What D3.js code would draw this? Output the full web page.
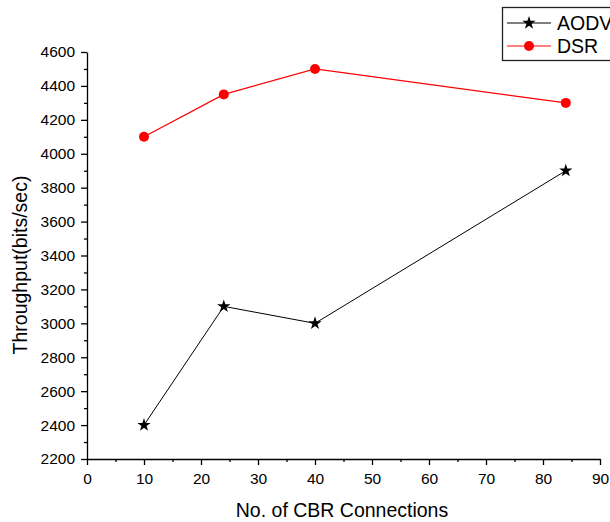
<!DOCTYPE html>
<meta charset='utf-8'>
<style>
  body { margin: 0; background: #fff; }
  svg { font-family: 'Liberation Sans', Arial, sans-serif; }
  .axis text { font-size: 15.5px; fill: #000; }
  .axis path, .axis line { stroke: #000; stroke-width: 1.3px; }
</style>
<body>
<div id='viz'></div>
<script src='https://d3js.org/d3.v7.min.js'></script>
<script>

// Data
var connections = [10, 24, 40, 84];
var aodv = [2400, 3100, 3000, 3900];
var dsr  = [4100, 4350, 4500, 4300];
var xTicks = [0, 10, 20, 30, 40, 50, 60, 70, 80, 90];
var yTicks = [2200, 2400, 2600, 2800, 3000, 3200, 3400, 3600, 3800, 4000, 4200, 4400, 4600];

var W = 610, H = 522;
var margin = {top: 52, right: 10, bottom: 63, left: 87};
var width = 600 - margin.left,
    height = 459 - margin.top;

var x = d3.scaleLinear().domain([0, 90]).range([0, width]);
var y = d3.scaleLinear().domain([2200, 4600]).range([height, 0]);

var svg = d3.select('#viz').append('svg')
    .attr('width', W)
    .attr('height', H);

var g = svg.append('g')
    .attr('transform', 'translate(' + margin.left + ',' + margin.top + ')');

// Minor ticks
g.append('g')
    .attr('class', 'axis')
    .attr('transform', 'translate(0,' + height + ')')
    .call(d3.axisBottom(x).tickValues(d3.range(5, 90, 10)).tickSize(3).tickFormat(''))
    .select('.domain').remove();
g.append('g')
    .attr('class', 'axis')
    .call(d3.axisLeft(y).tickValues(d3.range(2300, 4600, 200)).tickSize(3).tickFormat(''))
    .select('.domain').remove();

// Major axes
g.append('g')
    .attr('class', 'axis')
    .attr('transform', 'translate(0,' + height + ')')
    .call(d3.axisBottom(x).tickValues(xTicks).tickSize(6).tickSizeOuter(0).tickPadding(8).tickFormat(d3.format('d')));
g.append('g')
    .attr('class', 'axis')
    .call(d3.axisLeft(y).tickValues(yTicks).tickSize(6).tickSizeOuter(0).tickPadding(6).tickFormat(d3.format('d')));

// Axis titles
svg.append('text')
    .attr('x', 342)
    .attr('y', 517)
    .attr('text-anchor', 'middle')
    .style('font-size', '19.5px')
    .text('No. of CBR Connections');

svg.append('text')
    .attr('transform', 'translate(27,265) rotate(-90)')
    .attr('text-anchor', 'middle')
    .style('font-size', '19.5px')
    .text('Throughput(bits/sec)');

var line = d3.line()
    .x(function(d) { return x(d[0]); })
    .y(function(d) { return y(d[1]); });

var aodvPts = d3.zip(connections, aodv);
var dsrPts = d3.zip(connections, dsr);

g.append('path')
    .datum(aodvPts)
    .attr('fill', 'none')
    .attr('stroke', '#000')
    .attr('stroke-width', 1)
    .attr('d', line);

g.append('path')
    .datum(dsrPts)
    .attr('fill', 'none')
    .attr('stroke', '#ff0000')
    .attr('stroke-width', 1.2)
    .attr('d', line);

var star = d3.symbol().type(d3.symbolStar).size(55);

g.selectAll('.star')
    .data(aodvPts)
    .enter().append('path')
    .attr('class', 'star')
    .attr('transform', function(d) { return 'translate(' + x(d[0]) + ',' + y(d[1]) + ')'; })
    .attr('d', star)
    .attr('fill', '#000');

g.selectAll('.dot')
    .data(dsrPts)
    .enter().append('circle')
    .attr('class', 'dot')
    .attr('cx', function(d) { return x(d[0]); })
    .attr('cy', function(d) { return y(d[1]); })
    .attr('r', 5)
    .attr('fill', '#ff0000');

// Legend
var legend = svg.append('g');
legend.append('rect')
    .attr('x', 502.5)
    .attr('y', 7.5)
    .attr('width', 120)
    .attr('height', 53)
    .attr('fill', '#fff')
    .attr('stroke', '#222')
    .attr('stroke-width', 1.3);

var legendItems = [
  {name: 'AODV', color: '#000', shape: 'star', y: 23},
  {name: 'DSR', color: '#ff0000', shape: 'circle', y: 46}
];

legendItems.forEach(function(d) {
  legend.append('line')
      .attr('x1', 507).attr('x2', 551)
      .attr('y1', d.y).attr('y2', d.y)
      .attr('stroke', d.color)
      .attr('stroke-width', 1);
  if (d.shape === 'star') {
    legend.append('path')
        .attr('transform', 'translate(529,' + d.y + ')')
        .attr('d', star)
        .attr('fill', d.color);
  } else {
    legend.append('circle')
        .attr('cx', 529).attr('cy', d.y).attr('r', 5)
        .attr('fill', d.color);
  }
  legend.append('text')
      .attr('x', 557)
      .attr('y', d.y + 6.5)
      .style('font-size', '19.5px')
      .text(d.name);
});

</script>
</body>
